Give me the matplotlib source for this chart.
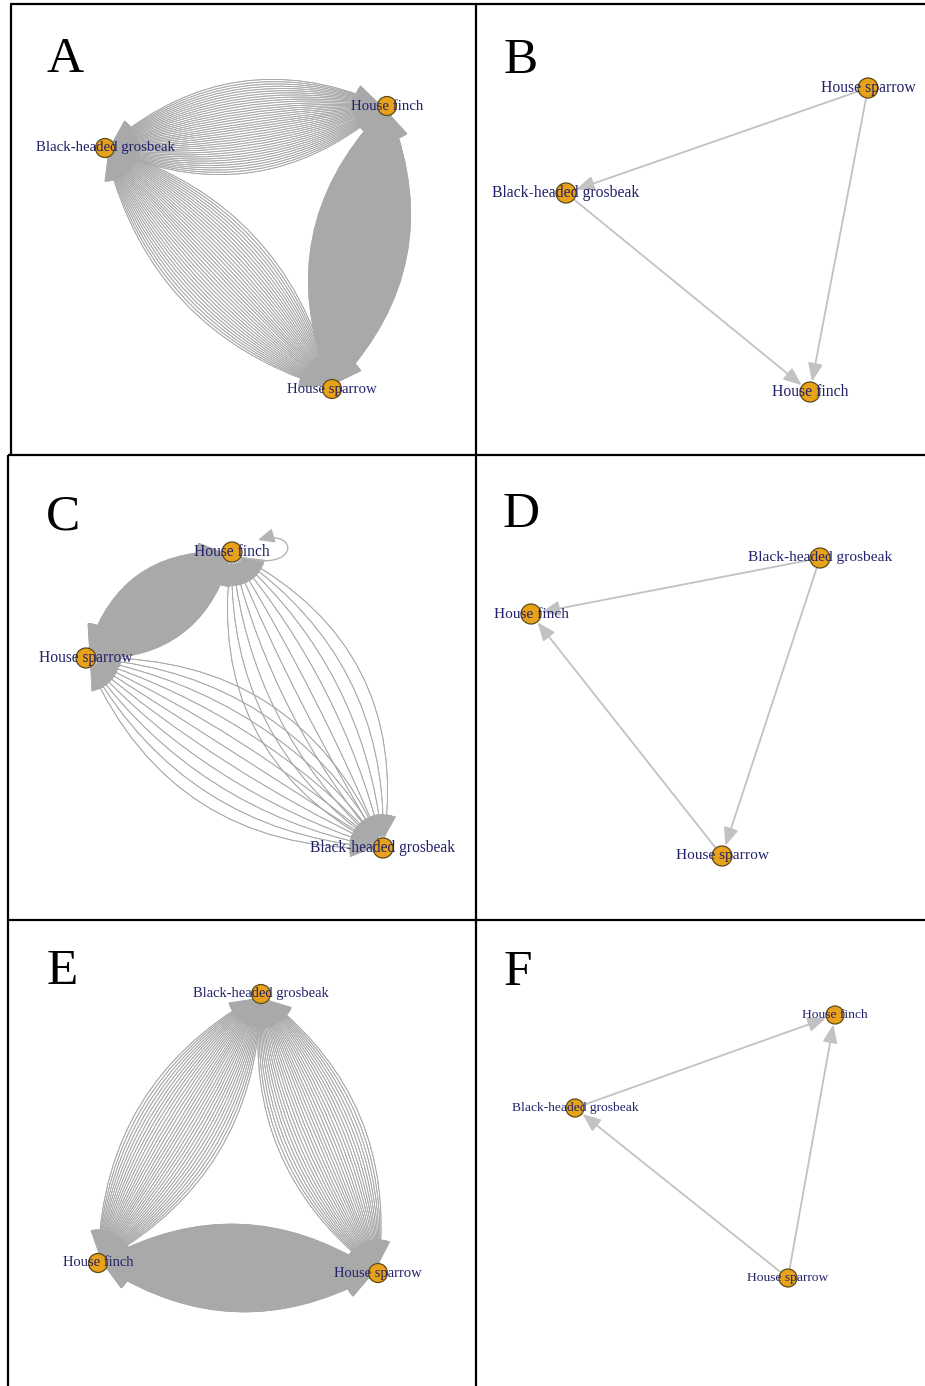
import numpy as np
import matplotlib.pyplot as plt
from matplotlib.patches import FancyArrowPatch, Circle
from matplotlib.path import Path

plt.rcParams['font.family'] = ['Liberation Serif', 'DejaVu Serif']

BHG = 'Black-headed grosbeak'
HF = 'House finch'
HS = 'House sparrow'

# panel letters and where they sit (pixel coords of the page, y down)
letters = ['A', 'B', 'C', 'D', 'E', 'F']
letter_x = [65, 521, 63, 521, 62, 518]
letter_y = [60, 61, 517, 515, 972, 973]

# node layouts
a_nodes = {BHG: (105, 148), HF: (387, 106), HS: (332, 389)}
b_nodes = {HS: (868, 88), BHG: (566, 193), HF: (810, 392)}
c_nodes = {HF: (232, 552), HS: (86, 658), BHG: (383, 848)}
d_nodes = {BHG: (820, 558), HF: (531, 614), HS: (722, 856)}
e_nodes = {BHG: (261, 994), HF: (98, 1263), HS: (378, 1273)}
f_nodes = {HF: (835, 1015), BHG: (575, 1108), HS: (788, 1278)}

# edges: (from, to, number of interactions) - multi-edges estimated from density
a_edges = [(BHG, HF, 38), (HF, BHG, 38), (BHG, HS, 34), (HS, BHG, 34),
           (HF, HS, 130), (HS, HF, 130)]
b_edges = [(HS, BHG, 1), (BHG, HF, 1), (HS, HF, 1)]
c_edges = [(HF, HS, 100), (HS, HF, 100), (HS, BHG, 11), (BHG, HS, 11),
           (HF, BHG, 10), (BHG, HF, 10), (HF, HF, 1)]
d_edges = [(BHG, HF, 1), (HS, HF, 1), (BHG, HS, 1)]
e_edges = [(BHG, HF, 32), (HF, BHG, 32), (BHG, HS, 30), (HS, BHG, 30),
           (HF, HS, 140), (HS, HF, 140)]
f_edges = [(BHG, HF, 1), (HS, BHG, 1), (HS, HF, 1)]

# widest curvature of each bundle of multi-edges
a_curve = {frozenset([BHG, HF]): 0.32, frozenset([BHG, HS]): 0.29, frozenset([HF, HS]): 0.33}
c_curve = {frozenset([HF, HS]): 0.40, frozenset([HS, BHG]): 0.34, frozenset([HF, BHG]): 0.36}
e_curve = {frozenset([BHG, HF]): 0.29, frozenset([BHG, HS]): 0.29, frozenset([HF, HS]): 0.31}

panels = [
    (a_nodes, a_edges, a_curve, 9.5, 10.7),
    (b_nodes, b_edges, {}, 10, 11.3),
    (c_nodes, c_edges, c_curve, 10, 11.2),
    (d_nodes, d_edges, {}, 10, 11.1),
    (e_nodes, e_edges, e_curve, 9.5, 10.5),
    (f_nodes, f_edges, {}, 9, 9.7),
]

edge_col = '#a9a9a9'
node_col = '#e8a21a'
node_edge = '#5c4a1a'
label_col = '#22226a'

fig = plt.figure(figsize=(9.25, 13.86), dpi=100)
ax = fig.add_axes([0, 0, 1, 1])
ax.set_xlim(0, 925)
ax.set_ylim(1386, 0)
ax.axis('off')

for (nodes, edges, curves, rad_px, fs), let, lx, ly in zip(panels, letters, letter_x, letter_y):
    shrink = rad_px * 0.72 + 0.5
    for src, dst, n in edges:
        p0 = nodes[src]
        if src == dst:
            # self loop to the right of the node
            x0, y0 = p0
            verts = [(x0 + 8, y0 + 5), (x0 + 68, y0 + 22), (x0 + 68, y0 - 24), (x0 + 26, y0 - 12)]
            codes = [Path.MOVETO, Path.CURVE4, Path.CURVE4, Path.CURVE4]
            ax.add_patch(FancyArrowPatch(path=Path(verts, codes),
                                         arrowstyle='-|>,head_length=1.0,head_width=0.45',
                                         mutation_scale=10, color='#b4b4b4', lw=1.0, zorder=2))
            continue
        p1 = nodes[dst]
        if n == 1:
            ax.add_patch(FancyArrowPatch(p0, p1, arrowstyle='-|>,head_length=1.1,head_width=0.45',
                                         mutation_scale=10, color='#c2c2c2', lw=1.3,
                                         shrinkA=shrink, shrinkB=shrink, zorder=2))
            continue
        rmax = curves[frozenset([src, dst])]
        lw = 0.9 if n > 60 else 0.6
        for r in np.linspace(-rmax, rmax, n):
            ax.add_patch(FancyArrowPatch(p0, p1, connectionstyle=f'arc3,rad={r:.4f}',
                                         arrowstyle='-|>,head_length=1.5,head_width=0.6',
                                         mutation_scale=10, color=edge_col, lw=lw,
                                         shrinkA=shrink, shrinkB=shrink, zorder=2))
    for name, (x, y) in nodes.items():
        ax.add_patch(Circle((x, y), rad_px, facecolor=node_col, edgecolor=node_edge,
                            lw=0.9, zorder=3))
        ax.text(x, y, name, ha='center', va='center', fontsize=fs, color=label_col, zorder=4)
    ax.text(lx, ly, let, ha='center', va='center', fontsize=37, color='black', zorder=5)

# panel frame lines
frame = dict(color='black', lw=1.6, solid_capstyle='butt', zorder=6)
ax.plot([10, 925], [4, 4], **frame)
ax.plot([11, 11], [4, 455], **frame)
ax.plot([8, 8], [455, 1386], **frame)
ax.plot([476, 476], [4, 1386], **frame)
ax.plot([8, 925], [455, 455], **frame)
ax.plot([8, 925], [920, 920], **frame)

fig.savefig('out.png', dpi=100, facecolor='white')
